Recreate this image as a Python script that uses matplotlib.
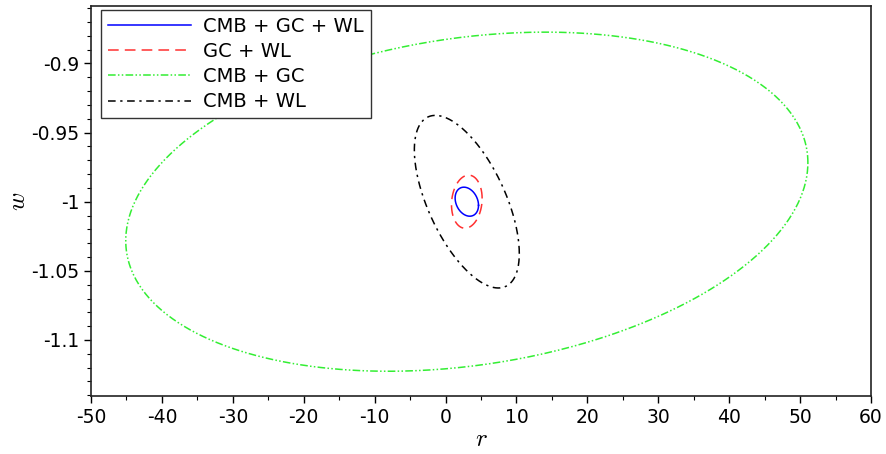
import numpy as np
import matplotlib
matplotlib.use("Agg")
import matplotlib.pyplot as plt
from matplotlib.ticker import MultipleLocator

# Forecast contours: centre (r, w), half-extent in r, half-extent in w, correlation
labels = ["CMB + GC + WL", "GC + WL", "CMB + GC", "CMB + WL"]
center_r = [3.0, 3.0, 3.0, 3.0]
center_w = [-1.0, -1.0, -1.0, -1.0]
half_r = [1.65, 2.16, 48.1, 7.4]
half_w = [0.0105, 0.0192, 0.1226, 0.0624]
corr = [-0.25, 0.12, 0.23, -0.6]

colors = ["#0000ff", "#ff3030", "#33ee33", "#000000"]
styles = ["-", (0, (7, 4)), (0, (5, 1.5, 1, 1.5, 1, 1.5)), (0, (5, 3, 1.5, 3))]

plt.rcParams["mathtext.fontset"] = "cm"
plt.rcParams["axes.unicode_minus"] = False
fig = plt.figure(figsize=(8.86, 4.54), dpi=100)
ax = fig.add_axes([91/886, 1-396/454, 780/886, 390/454])

t = np.linspace(0, 2*np.pi, 600)
for i in range(len(labels)):
    x = center_r[i] + half_r[i]*np.cos(t)
    y = center_w[i] + half_w[i]*(corr[i]*np.cos(t) + np.sqrt(1-corr[i]**2)*np.sin(t))
    ax.plot(x, y, color=colors[i], linestyle=styles[i], lw=1.1, label=labels[i])

ax.set_xlim(-50, 60)
ax.set_ylim(-1.1405, -0.8585)
ax.xaxis.set_major_locator(MultipleLocator(10))
ax.xaxis.set_minor_locator(MultipleLocator(5))
ax.yaxis.set_major_locator(MultipleLocator(0.05))
ax.yaxis.set_minor_locator(MultipleLocator(0.01))
ax.yaxis.set_major_formatter(matplotlib.ticker.FuncFormatter(lambda v, p: ("%g" % round(v, 3))))
ax.tick_params(which="major", direction="out", length=5, width=1, labelsize=13.5)
ax.tick_params(which="minor", direction="out", length=3, width=0.8)
for s in ax.spines.values():
    s.set_linewidth(1.2)
    s.set_color("#222222")
ax.set_xlabel(r"$r$", fontsize=18, labelpad=0)
ax.set_ylabel(r"$w$", fontsize=18, labelpad=1)

leg = ax.legend(loc="upper left", bbox_to_anchor=(10/780, 1-4/390), borderaxespad=0,
                fontsize=14, handlelength=4.3, labelspacing=0.32,
                fancybox=False, edgecolor="#333333", framealpha=1,
                handletextpad=0.6, borderpad=0.35)
leg.get_frame().set_linewidth(1.0)

fig.savefig("out.png", dpi=100)
